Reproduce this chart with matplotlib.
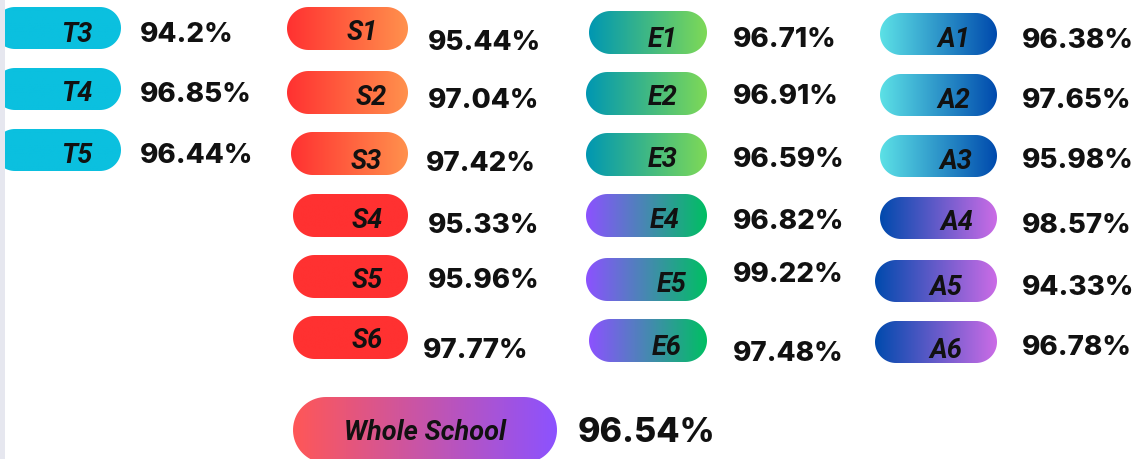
import numpy as np
import matplotlib
matplotlib.use('Agg')
from matplotlib import pyplot as plt
from matplotlib.patches import PathPatch, Rectangle
from matplotlib.path import Path
from matplotlib.colors import LinearSegmentedColormap

# attendance per class
t_labels = ['T3', 'T4', 'T5']
t_values = [94.2, 96.85, 96.44]
s_labels = ['S1', 'S2', 'S3', 'S4', 'S5', 'S6']
s_values = [95.44, 97.04, 97.42, 95.33, 95.96, 97.77]
e_labels = ['E1', 'E2', 'E3', 'E4', 'E5', 'E6']
e_values = [96.71, 96.91, 96.59, 96.82, 99.22, 97.48]
a_labels = ['A1', 'A2', 'A3', 'A4', 'A5', 'A6']
a_values = [96.38, 97.65, 95.98, 98.57, 94.33, 96.78]
whole_label = 'Whole School'
whole_value = 96.54

# layout (pixels): pill left/right, pill tops, label right edge, label y, pct x, pct y
cols = [
  dict(labels=t_labels, values=t_values,
       x0=[-6, -6, -6], x1=121, top=[7, 68, 129], h=42,
       lx=[92, 92, 92], ly=[32, 91, 153], px=[140, 140, 140], py=[32, 92, 153],
       colors=[('#0bc0df', '#0bc0df')]*3),
  dict(labels=s_labels, values=s_values,
       x0=[287, 287, 291, 293, 293, 293], x1=408, top=[7, 71, 132, 194, 255, 316], h=43,
       lx=[378, 387, 382, 383, 383, 383], ly=[30, 95, 159, 218, 278, 338],
       px=[428, 428, 426, 428, 428, 423], py=[40, 98, 161, 223, 278, 348],
       colors=[('#ff3131', '#ff914d')]*3 + [('#ff3131', '#ff3131')]*3),
  dict(labels=e_labels, values=e_values,
       x0=[589, 586, 586, 586, 586, 589], x1=707, top=[11, 72, 133, 194, 258, 319], h=43,
       lx=[678, 678, 678, 680, 687, 682], ly=[37, 95, 157, 218, 282, 345],
       px=[733]*6, py=[37, 94, 157, 219, 272, 351],
       colors=[('#0097b2', '#7ed957')]*3 + [('#8c52ff', '#00bf63')]*3),
  dict(labels=a_labels, values=a_values,
       x0=[880, 880, 880, 880, 875, 875], x1=997, top=[13, 74, 135, 197, 260, 321], h=42,
       lx=[970, 970, 972, 973, 962, 962], ly=[37, 98, 159, 220, 285, 348],
       px=[1022]*6, py=[38, 98, 158, 223, 285, 345],
       colors=[('#5ce1e6', '#004aad')]*3 + [('#004aad', '#cb6ce6')]*3),
]

LABEL_FONT = dict(family=['Roboto', 'DejaVu Sans'], style='italic', weight='bold', color='#111111')
PCT_FONT = dict(family=['Inter', 'DejaVu Sans'], weight='heavy', color='#111111')

W, H = 1135, 459
fig = plt.figure(figsize=(W/100, H/100), dpi=100)
ax = fig.add_axes((0, 0, 1, 1))

def pill_path(x0, x1, y0, h):
  r = h/2
  cy = y0 + r
  a = np.linspace(-np.pi/2, np.pi/2, 40)
  right = np.column_stack([x1 - r + r*np.cos(a), cy + r*np.sin(a)])
  left = np.column_stack([x0 + r - r*np.cos(a), cy - r*np.sin(a)])
  pts = np.vstack([right, left, right[:1]])
  return Path(pts, closed=True)

def pill(ax, x0, x1, y0, h, c0, c1):
  p = PathPatch(pill_path(x0, x1, y0, h), fc='none', ec='none', lw=0)
  ax.add_patch(p)
  cmap = LinearSegmentedColormap.from_list('g', [c0, c1])
  grad = np.linspace(0, 1, 256).reshape(1, -1)
  im = ax.imshow(grad, cmap=cmap, extent=(x0, x1, y0+h, y0), aspect='auto', interpolation='bilinear')
  im.set_clip_path(p)

for c in cols:
  for i, (lab, v) in enumerate(zip(c['labels'], c['values'])):
    c0, c1 = c['colors'][i]
    pill(ax, c['x0'][i], c['x1'], c['top'][i], c['h'], c0, c1)
    ax.text(c['lx'][i], c['ly'][i]+10, lab, ha='right', va='baseline', fontsize=19.5, **LABEL_FONT)
    ax.text(c['px'][i], c['py'][i]+10, f'{v:g}%', ha='left', va='baseline', fontsize=20, **PCT_FONT)

pill(ax, 293, 557, 397, 66, '#ff5757', '#8c52ff')
ax.text(425, 440, whole_label, ha='center', va='baseline', fontsize=19.5, **LABEL_FONT)
ax.text(578, 442.5, f'{whole_value:g}%', ha='left', va='baseline', fontsize=24.5, **PCT_FONT)

# light strip at left edge
ax.add_patch(Rectangle((0, 0), 4.5, H, fc='#e6e7ef', ec='none', zorder=5))

ax.set_xlim(0, W)
ax.set_ylim(H, 0)
ax.axis('off')
fig.savefig('out.png', dpi=100, facecolor='white')
